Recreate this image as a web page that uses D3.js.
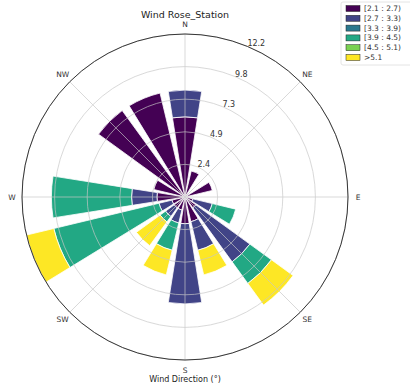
<!DOCTYPE html>
<html>
<head>
<meta charset="utf-8">
<script src="https://cdn.jsdelivr.net/npm/d3@7"></script>
<style>
  html, body { margin: 0; padding: 0; background: #fff; }
  svg { display: block; font-family: "DejaVu Sans", sans-serif; }
</style>
</head>
<body>
<svg id="chart" width="410" height="388"></svg>
<script>
// 16 compass sectors, clockwise from north
const directions = ["N","NNE","NE","ENE","E","ESE","SE","SSE","S","SSW","SW","WSW","W","WNW","NW","NNW"];
const compassLabels = ["N","NE","E","SE","S","SW","W","NW"];
const binLabels = ["[2.1 : 2.7)","[2.7 : 3.3)","[3.3 : 3.9)","[3.9 : 4.5)","[4.5 : 5.1)",">5.1"];
const binColors = ["#440154","#414487","#2a788e","#22a884","#7ad151","#fde725"];

// Frequency (%) per speed bin, one value per sector
const bin21_27 = [6.0, 2.0, 0.2, 2.1, 0.2, 0.6, 1.0, 1.9, 2.0, 1.0, 1.0, 1.0, 2.1, 2.4, 8.0, 8.0];
const bin27_33 = [2.0, 0.0, 0.0, 0.0, 0.0, 1.5, 5.0, 2.2, 6.0, 1.0, 0.8, 1.0, 1.9, 0.0, 0.0, 0.0];
const bin33_39 = [0.0, 0.0, 0.0, 0.0, 0.0, 0.0, 0.0, 0.0, 0.0, 0.0, 0.0, 0.0, 0.0, 0.0, 0.0, 0.0];
const bin39_45 = [0.0, 0.0, 0.0, 0.0, 0.0, 1.8, 2.0, 0.0, 0.0, 2.1, 0.5, 8.1, 6.0, 0.0, 0.0, 0.0];
const bin45_51 = [0.0, 0.0, 0.0, 0.0, 0.0, 0.0, 0.0, 0.0, 0.0, 0.0, 0.0, 0.0, 0.0, 0.0, 0.0, 0.0];
const bin51_up = [0.0, 0.0, 0.0, 0.0, 0.0, 0.0, 2.0, 1.9, 0.0, 1.9, 2.2, 2.1, 0.0, 0.0, 0.0, 0.0];
const radialTicks = ["2.4","4.9","7.3","9.8","12.2"];
const rMax = 12.2;

const bins = [bin21_27, bin27_33, bin33_39, bin39_45, bin45_51, bin51_up];

const svg = d3.select("#chart");
const cx = 185, cy = 197, R = 163;
const g = svg.append("g").attr("transform", `translate(${cx},${cy})`);

const r = d3.scaleLinear().domain([0, rMax]).range([0, R]);
const sectorStep = 360 / directions.length;
const angle = d3.scaleBand().domain(directions).range([-sectorStep / 2, 360 - sectorStep / 2]);
const toRad = d => d * Math.PI / 180;
const opening = 0.8;

// stacked segments per sector
const segments = [];
directions.forEach((dir, j) => {
  let offset = 0;
  bins.forEach((vals, i) => {
    const v = vals[j];
    if (v > 0) segments.push({ dir, bin: i, r0: offset, r1: offset + v });
    offset += v;
  });
});

const arc = d3.arc()
  .innerRadius(d => r(d.r0))
  .outerRadius(d => r(d.r1))
  .startAngle(d => toRad(angle(d.dir) + sectorStep * (1 - opening) / 2))
  .endAngle(d => toRad(angle(d.dir) + sectorStep * (1 + opening) / 2));

g.append("g").selectAll("path").data(segments).join("path")
  .attr("d", arc)
  .attr("fill", d => binColors[d.bin])
  .attr("stroke", "#fff")
  .attr("stroke-width", 0.8);

// grid on top of the bars
const ringValues = radialTicks.map((t, k) => rMax * (k + 1) / radialTicks.length);
const grid = g.append("g").attr("fill", "none").attr("stroke", "#c8c8c8").attr("stroke-width", 0.8).attr("opacity", 0.85);
ringValues.forEach(v => grid.append("circle").attr("r", r(v)));
compassLabels.forEach((lab, k) => {
  const a = toRad(k * 45);
  grid.append("line").attr("x1", 0).attr("y1", 0)
    .attr("x2", R * Math.sin(a)).attr("y2", -R * Math.cos(a));
});

// outer frame
g.append("circle").attr("r", R).attr("fill", "none").attr("stroke", "#222").attr("stroke-width", 0.9);

// radial tick labels along 22.5°
radialTicks.forEach((t, k) => {
  const rr = r(ringValues[k]);
  const a = toRad(22.5);
  g.append("text")
    .attr("x", rr * Math.sin(a)).attr("y", -rr * Math.cos(a))
    .attr("font-size", 8).attr("fill", "#333")
    .text(t);
});

// compass labels
compassLabels.forEach((lab, k) => {
  const a = toRad(k * 45);
  const rr = 173;
  g.append("text")
    .attr("x", rr * Math.sin(a)).attr("y", -rr * Math.cos(a))
    .attr("text-anchor", "middle").attr("dominant-baseline", "central")
    .attr("font-size", 7.5).attr("fill", "#333")
    .text(lab);
});

// title and axis label
svg.append("text").attr("x", cx).attr("y", 18).attr("text-anchor", "middle")
  .attr("font-size", 9.5).attr("fill", "#222").text("Wind Rose_Station");
svg.append("text").attr("x", cx).attr("y", 382).attr("text-anchor", "middle")
  .attr("font-size", 8).attr("fill", "#222").text("Wind Direction (°)");

// legend
const lg = svg.append("g").attr("transform", "translate(341,2)");
lg.append("rect").attr("width", 72).attr("height", 63).attr("fill", "#fff")
  .attr("stroke", "#ddd").attr("stroke-width", 0.8).attr("rx", 2);
binLabels.forEach((lab, i) => {
  const y = 6.5 + i * 9.8;
  lg.append("rect").attr("x", 5).attr("y", y - 3).attr("width", 14).attr("height", 6)
    .attr("fill", binColors[i]).attr("stroke", "#222").attr("stroke-width", 0.5);
  lg.append("text").attr("x", 23).attr("y", y).attr("dominant-baseline", "central")
    .attr("font-size", 7.5).attr("fill", "#333").text(lab);
});
</script>
</body>
</html>
